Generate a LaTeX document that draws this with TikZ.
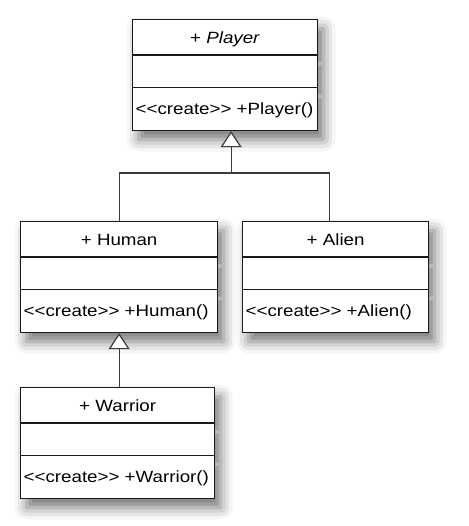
\documentclass[tikz,border=0pt]{standalone}
\usepackage{fontspec}
\usepackage{xcolor}
\usepackage{tikz}
\usetikzlibrary{shapes.multipart,shadows.blur,arrows.meta}

\newfontfamily\umlfont[Ligatures=TeXOff,FakeStretch=1.15]{Liberation Sans}
\definecolor{boxline}{HTML}{1A1A1A}
\definecolor{connline}{HTML}{3A3A3A}

% width, class name, operation
\newcommand{\classparts}[3]{%
  \makebox[#1][c]{\rule[-11bp]{0pt}{34bp}#2}%
  \nodepart{two}\rule[-15.5bp]{0pt}{31bp}%
  \nodepart{three}\makebox[#1][l]{\rule[-15bp]{0pt}{42bp}#3}}

\tikzset{
  umlclass/.style={rectangle split, rectangle split parts=3, draw=boxline,
    line width=1.3bp, fill=white, anchor=north west, inner xsep=3bp, inner ysep=0pt,
    font=\umlfont\fontsize{16.3bp}{19bp}\selectfont,
    blur shadow={shadow xshift=6bp, shadow yshift=-9bp, shadow blur radius=12bp, shadow opacity=55}},
  conn/.style={draw=connline, line width=1.2bp},
  gen/.style={conn, -{Triangle[fill=white, length=16bp, width=21bp]}}
}

\begin{document}
\begin{tikzpicture}[x=1bp, y=-1bp]
    \useasboundingbox (0,0) rectangle (469,526);
    \node[umlclass] (player) at (132,19)
        {\classparts{179bp}{+ \textit{Player}}{<<create>> +Player()}};
    \node[umlclass] (human) at (20,221)
        {\classparts{191bp}{+ Human}{<<create>> +Human()}};
    \node[umlclass] (alien) at (242,221)
        {\classparts{180bp}{+ Alien}{<<create>> +Alien()}};
    \node[umlclass] (warrior) at (20,387)
        {\classparts{188bp}{+ Warrior}{<<create>> +Warrior()}};

    \coordinate (bus) at (0,173);
    \coordinate (ptip) at ([xshift=6bp]player.south);
    \coordinate (atop) at ([xshift=-6bp]alien.north);
    \draw[conn] (human.north) |- (atop |- bus) -- (atop);
    \draw[gen] (ptip |- bus) -- (ptip);
    \draw[gen] (warrior.north -| human.south) -- (human.south);
\end{tikzpicture}
\end{document}
